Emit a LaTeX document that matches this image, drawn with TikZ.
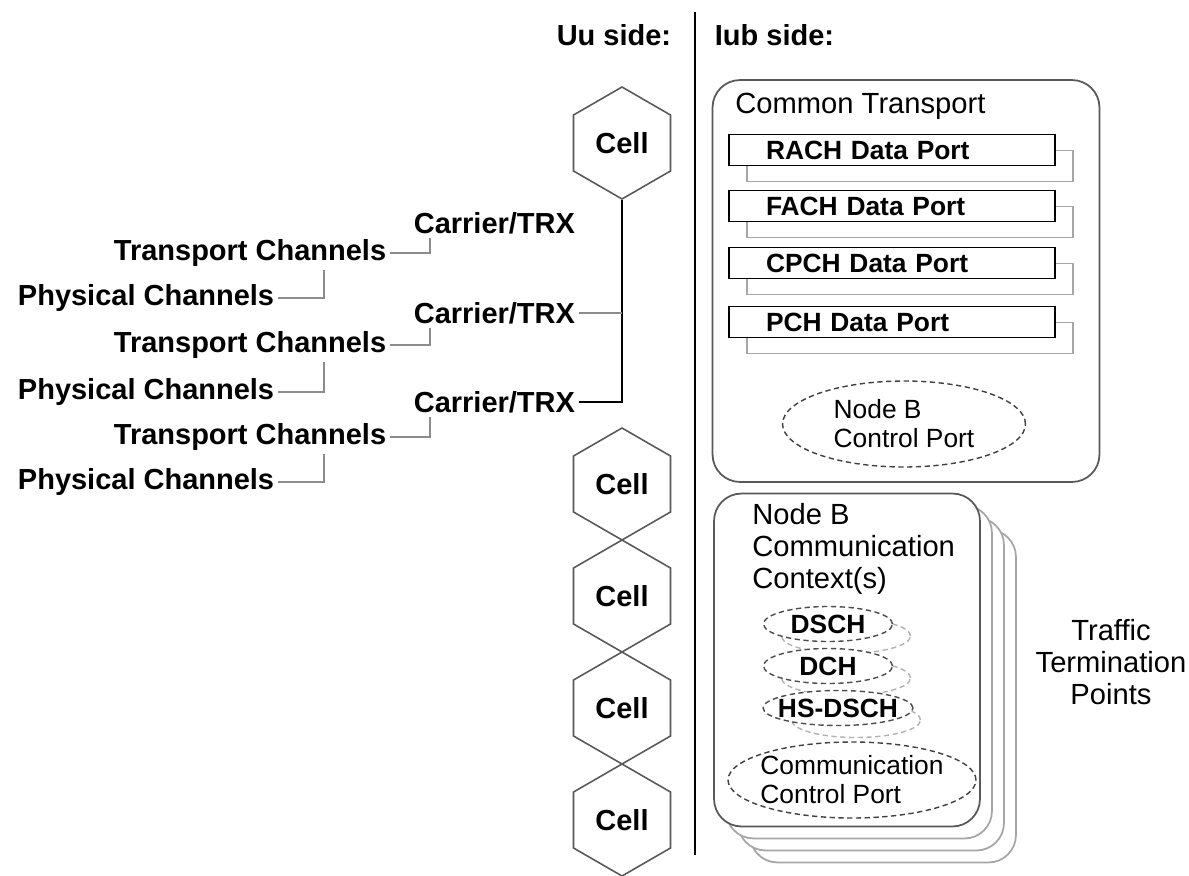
\documentclass[tikz,border=0pt]{standalone}
\usepackage{fontspec}
\setmainfont{Liberation Sans}
\usetikzlibrary{shapes.geometric,positioning}
\tikzset{
  cell/.style={draw=black!65, line width=0.9pt, regular polygon, regular polygon sides=6, shape border rotate=90, minimum size=2.24cm, inner sep=0pt, font=\bfseries\fontsize{16.5}{19}\selectfont},
  lbl/.style={inner sep=2pt, font=\bfseries\fontsize{16.5}{19}\selectfont},
  txt/.style={inner sep=0pt, align=left, font=\fontsize{16.6}{18}\selectfont},
  wire/.style={draw=black!45, line width=0.8pt},
  trunk/.style={draw=black, line width=1.1pt},
  port/.style={draw=black, line width=0.9pt, fill=white, minimum height=0.62cm, text width=5.04cm, inner xsep=0.74cm, inner ysep=0pt, align=left, font=\bfseries\fontsize{15}{18}\selectfont},
  portshadow/.style={draw=black!35, line width=0.8pt, minimum width=6.52cm, minimum height=0.62cm, inner sep=0pt},
  group/.style={draw=black!65, line width=1pt, rounded corners=0.55cm, inner sep=0pt},
  ctrl/.style={ellipse, draw=black!75, densely dashed, line width=0.8pt, fill=white, inner xsep=-8pt, inner ysep=0pt, align=left, font=\fontsize{15}{16.5}\selectfont},
  chan/.style={ellipse, draw=black!70, densely dashed, line width=0.8pt, fill=white, minimum width=2.58cm, minimum height=0.7cm, inner xsep=-4pt, inner ysep=0pt, font=\bfseries\fontsize{15}{18}\selectfont},
  chanshadow/.style={ellipse, draw=black!30, densely dashed, line width=0.8pt, minimum width=2.58cm, minimum height=0.7cm, inner sep=0pt},
}
\begin{document}
\begin{tikzpicture}[x=0.02cm, y=-0.02cm]
    \path[use as bounding box] (0,0) rectangle (1189,875);
    % divider
    \draw[line width=1.6pt] (695,12) -- (695,855);
    \node[lbl, anchor=east] (uu) at (675,35) {Uu side:};
    \node[lbl, anchor=west] (iub) at (711,35) {Iub side:};
    % cells
    \node[cell] (cell1) at (622,143) {Cell};
    \foreach \i/\y in {2/484,3/596,4/708,5/820}
        \node[cell] (cell\i) at (622,\y) {Cell};
    % carriers and channels
    \foreach \i/\y in {1/223,2/313,3/402}
        \node[lbl, anchor=west] (car\i) at (410,\y) {Carrier/TRX};
    \foreach \i/\y in {1/253,2/345,3/437}
        \node[lbl, anchor=east] (tc\i) at (390,\y) {Transport Channels};
    \foreach \i/\y in {1/298,2/392,3/482}
        \node[lbl, anchor=east] (pc\i) at (278,\y) {Physical Channels};
    % tree
    \draw[trunk] (cell1.south) |- (car3.east);
    \draw[wire] (car2.east) -- (car2.east -| cell1.south);
    \foreach \i in {1,2,3} {
        \draw[wire] (tc\i.east) -| ([xshift=0.4cm]car\i.south west);
        \draw[wire] (pc\i.east) -| ([xshift=-1.32cm]tc\i.south east);
    }
    % common transport
    \node[group, minimum width=7.74cm, minimum height=8.04cm] (common) at (906,281) {};
    \node[txt, anchor=west] (commontitle) at (735,106) {Common Transport};
    \foreach \ch/\y in {RACH/150,FACH/206,CPCH/263,PCH/322} {
        \node[portshadow] (sh\ch) at (910,\y+16) {};
        \node[port] (port\ch) at (892,\y) {\ch\ Data Port};
    }
    \node[ctrl, minimum width=4.86cm, minimum height=1.72cm] (nbcp) at (904,424) {Node B\\Control Port};
    % communication context
    \foreach \k in {3,2,1}
        \node[group, draw=black!35, fill=white, minimum width=5.32cm, minimum height=6.66cm] (ctxsh\k) at (847+12*\k,660+12*\k) {};
    \node[group, fill=white, minimum width=5.32cm, minimum height=6.66cm] (ctx) at (847,660) {};
    \node[txt, anchor=west] (ctxtitle) at (752,549) {Node B\\Communication\\Context(s)};
    \foreach \c/\x/\y in {dsch/828/624,dch/828/666,hsdsch/838/708}
        \node[chanshadow] (\c sh) at (\x+18,\y+12) {};
    \node[chan] (dsch) at (828,624) {DSCH};
    \node[chan] (dch) at (828,666) {DCH};
    \node[chan] (hsdsch) at (838,708) {HS-DSCH};
    \node[ctrl, minimum width=4.96cm, minimum height=1.52cm] (ccp) at (852,780) {Communication\\Control Port};
    % termination points
    \node[txt, align=center] (ttp) at (1111,662) {Traffic\\Termination\\Points};
\end{tikzpicture}
\end{document}
